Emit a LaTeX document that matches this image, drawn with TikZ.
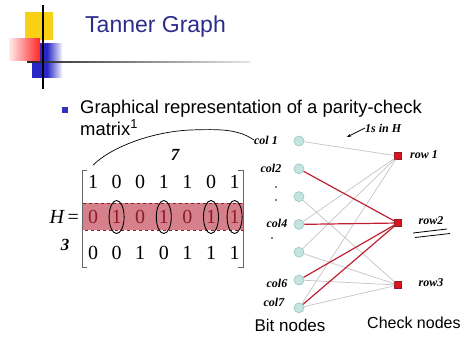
\documentclass[tikz,border=0pt]{standalone}
\usepackage{fontspec}
\setmainfont{Liberation Sans}
\newfontfamily\matfont{Liberation Serif}
\usetikzlibrary{positioning,arrows.meta,shapes.geometric}
\definecolor{titleblue}{RGB}{44,44,140}
\definecolor{bulletblue}{RGB}{50,50,190}
\definecolor{logoyellow}{RGB}{250,208,20}
\definecolor{logoblue}{RGB}{40,40,200}
\definecolor{edgered}{RGB}{192,32,52}
\definecolor{edgegray}{RGB}{196,196,196}
\definecolor{bitfill}{RGB}{196,228,224}
\definecolor{bitdraw}{RGB}{150,196,192}
\definecolor{chkred}{RGB}{220,20,34}
\definecolor{hlfill}{RGB}{214,128,140}
\definecolor{rowred}{RGB}{140,28,40}

\begin{document}
\begin{tikzpicture}[x=1pt,y=-1pt,every node/.style={inner sep=0pt},
    bitnode/.style={circle,minimum size=10pt,fill=bitfill,draw=bitdraw,line width=0.6pt},
    chknode/.style={rectangle,minimum size=7pt,fill=chkred,draw=rowred,line width=0.6pt},
    hand/.style={font=\matfont\bfseries\itshape\fontsize{12}{12}\selectfont},
    entry/.style={font=\matfont\fontsize{20}{20}\selectfont}]
  \useasboundingbox (0,0) rectangle (464,338);
  % logo
  \fill[logoyellow] (25,12) rectangle (53,40);
  \shade[left color=logoblue,right color=logoblue!5,middle color=logoblue] (32,43) rectangle (62,77);
  \shade[left color=red!8,right color=red!85] (9,38) rectangle (40,60);
  \shade[left color=black!85,right color=black!10] (27,61.2) rectangle (250,62.8);
  \draw[line width=1.2pt] (43,5) -- (43,89);
  % title and bullet
  \node[anchor=base west,titleblue,font=\fontsize{23}{28}\selectfont] (title) at (85,32) {Tanner Graph};
  \fill[bulletblue] (62,107) rectangle (68,113);
  \node[anchor=base west,font=\fontsize{18.4}{22}\selectfont] (txt1) at (80,113) {Graphical representation of a parity-check};
  \node[anchor=base west,font=\fontsize{18.4}{22}\selectfont] (txt2) at (80,135) {matrix\textsuperscript{1}};
  % matrix
  \fill[hlfill] (82,203) rectangle (243,230);
  \draw[rowred,dashed,line width=0.5pt] (82,203) rectangle (243,230);
  \draw[black!60,line width=0.8pt] (87,170) -- (82,170) -- (82,267) -- (87,267);
  \draw[black!60,line width=0.8pt] (238,170) -- (243,170) -- (243,267) -- (238,267);
  \foreach \row/\yy/\cc [count=\i] in {{1,0,0,1,1,0,1}/182/black,{0,1,0,1,0,1,1}/217/rowred,{0,0,1,0,1,1,1}/253/black}
    \foreach \v [count=\j] in \row
      \node[entry,text=\cc] (m-\i-\j) at ({93+23.6*(\j-1)},\yy) {\v};
  \node[entry,anchor=east] (heq) at (79,217) {\itshape H\upshape\,=};
  \foreach \j in {2,4,6,7}
    \draw[line width=0.9pt] (m-2-\j) ellipse (7.5 and 16.5);
  \node[hand,font=\matfont\bfseries\itshape\fontsize{17}{17}\selectfont] (n7) at (175,155) {7};
  \node[hand,font=\matfont\bfseries\itshape\fontsize{17}{17}\selectfont] (n3) at (65,245) {3};
  % tanner graph
  \foreach \k in {1,...,7}
    \node[bitnode] (b\k) at (299,{141+27.8*(\k-1)}) {};
  \node[chknode] (c1) at (398,156) {};
  \node[chknode] (c2) at (398,223) {};
  \node[chknode] (c3) at (398,285) {};
  \foreach \k in {1,4,5,7} \draw[edgegray,line width=0.7pt] (b\k) -- (c1);
  \foreach \k in {3,5,6,7} \draw[edgegray,line width=0.7pt] (b\k) -- (c3);
  \foreach \k in {2,4,6,7} \draw[edgered,line width=1.2pt] (b\k) -- (c2);
  \node[anchor=base,font=\fontsize{17}{20}\selectfont] (bitlbl) at (290,331) {Bit nodes};
  \node[anchor=base west,font=\fontsize{16}{20}\selectfont] (chklbl) at (367,328) {Check nodes};
  % handwritten notes
  \node[hand] (lc1) at (266,140) {col 1};
  \node[hand] (lc2) at (271,168) {col2};
  \node[hand] (lc4) at (277,223) {col4};
  \node[hand] (lc6) at (277,283) {col6};
  \node[hand] (lc7) at (274,302) {col7};
  \fill (276,187) circle (0.9) (276,200) circle (0.9) (272,238) circle (0.9);
  \draw[line width=0.7pt] (m-1-1.north) ++(0,-10) .. controls (110,148) and (150,132) .. (190,130)
       .. controls (220,129) and (238,129) .. (lc1.west);
  \node[hand,anchor=west] (ones) at (365,128) {1s in H};
  \draw[-{Stealth[length=4pt]},line width=0.8pt] (ones.west) -- (347,137);
  \node[hand] (lr1) at (424,155) {row 1};
  \node[hand] (lr2) at (431,221) {row2};
  \node[hand] (lr3) at (431,283) {row3};
  \draw[line width=0.8pt] (413,233) -- (447,229) (415,237.5) -- (450,233.5);
\end{tikzpicture}
\end{document}
